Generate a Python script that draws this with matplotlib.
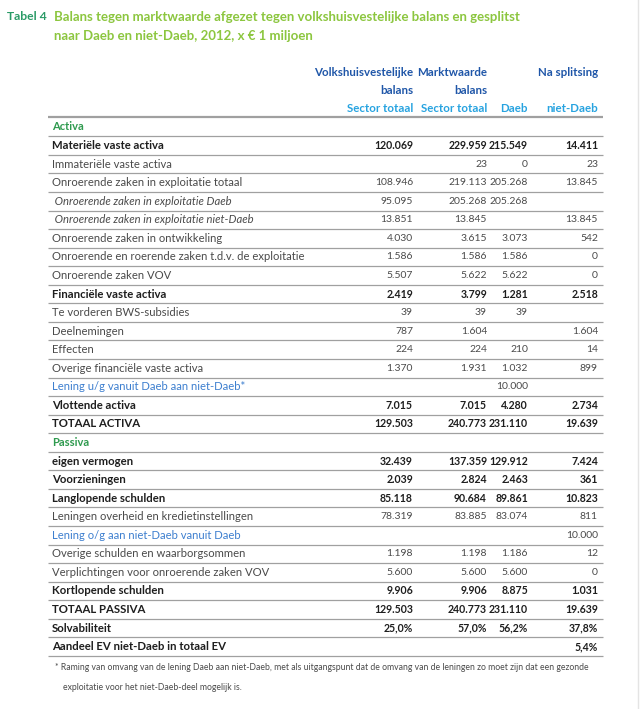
import matplotlib.pyplot as plt

# table content
labels = [
    'Activa',
    'Materiële vaste activa',
    'Immateriële vaste activa',
    'Onroerende zaken in exploitatie totaal',
    ' Onroerende zaken in exploitatie Daeb',
    ' Onroerende zaken in exploitatie niet-Daeb',
    'Onroerende zaken in ontwikkeling',
    'Onroerende en roerende zaken t.d.v. de exploitatie',
    'Onroerende zaken VOV',
    'Financiële vaste activa',
    'Te vorderen BWS-subsidies',
    'Deelnemingen',
    'Effecten',
    'Overige financiële vaste activa',
    'Lening u/g vanuit Daeb aan niet-Daeb*',
    'Vlottende activa',
    'TOTAAL ACTIVA',
    'Passiva',
    'eigen vermogen',
    'Voorzieningen',
    'Langlopende schulden',
    'Leningen overheid en kredietinstellingen',
    'Lening o/g aan niet-Daeb vanuit Daeb',
    'Overige schulden en waarborgsommen',
    'Verplichtingen voor onroerende zaken VOV',
    'Kortlopende schulden',
    'TOTAAL PASSIVA',
    'Solvabiliteit',
    'Aandeel EV niet-Daeb in totaal EV',
]
kinds = ['section', 'bold', 'normal', 'normal', 'italic', 'italic', 'normal', 'normal',
         'normal', 'bold', 'normal', 'normal', 'normal', 'normal', 'blue', 'bold', 'bold',
         'section', 'bold', 'bold', 'bold', 'normal', 'blue', 'normal', 'normal', 'bold',
         'bold', 'bold', 'bold']

volkshuis = [None, 120069, None, 108946, 95095, 13851, 4030, 1586, 5507, 2419, 39, 787, 224,
             1370, None, 7015, 129503, None, 32439, 2039, 85118, 78319, None, 1198, 5600,
             9906, 129503, 25.0, None]
marktwaarde = [None, 229959, 23, 219113, 205268, 13845, 3615, 1586, 5622, 3799, 39, 1604, 224,
               1931, None, 7015, 240773, None, 137359, 2824, 90684, 83885, None, 1198, 5600,
               9906, 240773, 57.0, None]
daeb = [None, 215549, 0, 205268, 205268, None, 3073, 1586, 5622, 1281, 39, None, 210,
        1032, 10000, 4280, 231110, None, 129912, 2463, 89861, 83074, None, 1186, 5600,
        8875, 231110, 56.2, None]
niet_daeb = [None, 14411, 23, 13845, None, 13845, 542, 0, 0, 2518, None, 1604, 14,
             899, None, 2734, 19639, None, 7424, 361, 10823, 811, 10000, 12, 0,
             1031, 19639, 37.8, 5.4]
pct_rows = ['Solvabiliteit', 'Aandeel EV niet-Daeb in totaal EV']

title1 = 'Balans tegen marktwaarde afgezet tegen volkshuisvestelijke balans en gesplitst'
title2 = 'naar Daeb en niet-Daeb, 2012, x € 1 miljoen'
footnote1 = ('* Raming van omvang van de lening Daeb aan niet-Daeb, met als uitgangspunt dat '
             'de omvang van de leningen zo moet zijn dat een gezonde')
footnote2 = 'exploitatie voor het niet-Daeb-deel mogelijk is.'


def fmt(v, pct):
    if v is None:
        return ''
    if pct:
        return ('%.1f%%' % v).replace('.', ',')
    return '{:,}'.format(v).replace(',', '.')


FONT = ['Lato', 'DejaVu Sans']
dark = '#4a4a4a'
black = '#1e1e1e'
green = '#2e9a4e'
lime = '#8cc63f'
navy = '#1f56a8'
sky = '#27a3e0'
blue = '#3d7fcf'
rule = '#a0a0a0'

fig = plt.figure(figsize=(6.42, 7.09), dpi=100)
ax = fig.add_axes([0, 0, 1, 1])
ax.set_xlim(0, 642)
ax.set_ylim(709, 0)
ax.axis('off')

# title
ax.text(7, 17, 'Tabel 4', color='#2a9a66', fontsize=8.7, fontweight='bold', family=FONT, va='center')
ax.text(54, 17, title1, color=lime, fontsize=9.5, fontweight='bold', family=FONT, va='center')
ax.text(54, 36, title2, color=lime, fontsize=9.5, fontweight='bold', family=FONT, va='center')

# column headers
col_x = [413, 487, 528, 598]
hdr = dict(fontsize=8.3, fontweight='bold', family=FONT, va='center', ha='right')
ax.text(col_x[0], 72, 'Volkshuisvestelijke', color=navy, **hdr)
ax.text(col_x[0], 90, 'balans', color=navy, **hdr)
ax.text(col_x[0], 108, 'Sector totaal', color=sky, **hdr)
ax.text(col_x[1], 72, 'Marktwaarde', color=navy, **hdr)
ax.text(col_x[1], 90, 'balans', color=navy, **hdr)
ax.text(col_x[1], 108, 'Sector totaal', color=sky, **hdr)
ax.text(col_x[3], 72, 'Na splitsing', color=navy, **hdr)
ax.text(col_x[2], 108, 'Daeb', color=sky, **hdr)
ax.text(col_x[3], 108, 'niet-Daeb', color=sky, **hdr)

x0, x1 = 48, 603
ax.plot([x0, x1], [117, 117], color=rule, lw=1.6, solid_capstyle='butt')

y_start, step = 127, 18.56
columns = [volkshuis, marktwaarde, daeb, niet_daeb]
for i, (lab, kind) in enumerate(zip(labels, kinds)):
    y = y_start + i * step
    style = 'normal'
    weight = 'normal'
    color = dark
    size, nsize = 8.1, 7.5
    if kind == 'section':
        weight, color, size = 'bold', green, 8
    elif kind == 'bold':
        weight, color, size, nsize = 'bold', black, 8.2, 7.6
    elif kind == 'italic':
        style = 'italic'
    elif kind == 'blue':
        color = blue
    ax.text(52, y, lab, color=color, fontsize=size, fontweight=weight, fontstyle=style,
            family=FONT, va='center')
    pct = lab in pct_rows
    for cx, col in zip(col_x, columns):
        s = fmt(col[i], pct)
        if s:
            ax.text(cx, y, s, color=black if kind == 'bold' else dark, fontsize=nsize,
                    fontweight=weight, family=FONT, va='center', ha='right')
    ax.plot([x0, x1], [y + step / 2, y + step / 2], color=rule, lw=0.9, solid_capstyle='butt')

# footnote
ax.text(55, 668, footnote1, color=dark, fontsize=6.2, family=FONT, va='center')
ax.text(63, 687, footnote2, color=dark, fontsize=6.2, family=FONT, va='center')

# faint page edge
ax.plot([638, 638], [0, 709], color='#e4e4e4', lw=1)

fig.savefig('out.png', dpi=100)
